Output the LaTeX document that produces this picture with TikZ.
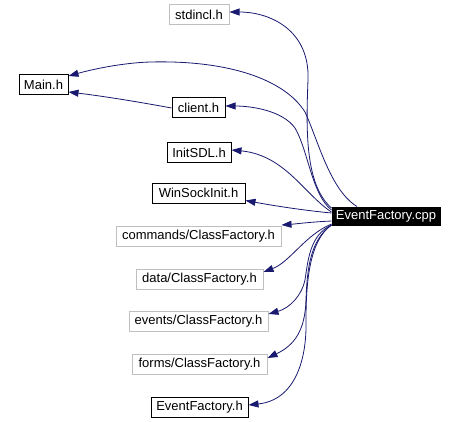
\documentclass[tikz,border=0pt]{standalone}
\usepackage{fontspec}
\setmainfont{Liberation Sans}
\usetikzlibrary{arrows.meta}
\definecolor{edgecol}{RGB}{25,25,112}
\definecolor{graybd}{RGB}{191,191,191}
\begin{document}
\begin{tikzpicture}[x=1pt,y=-1pt,
  box/.style={draw=black,line width=1pt,inner sep=0pt,minimum height=20pt,font=\fontsize{13}{15}\selectfont},
  gbox/.style={box,draw=graybd},
  cppbox/.style={box,fill=black,text=white,minimum height=18pt},
  arr/.style={draw=edgecol,line width=0.8pt,-{Triangle[length=10pt,width=7pt]}}]
\useasboundingbox (0,0) rectangle (457,422);
\fill[white] (0,0) rectangle (457,422);
\node[gbox,minimum width=60pt] (std) at (199,15) {stdincl.h};
\node[box,minimum width=49pt] (main) at (43.5,85) {Main.h};
\node[box,minimum width=53pt] (client) at (198.5,108) {client.h};
\node[box,minimum width=64pt] (initsdl) at (199,152.5) {InitSDL.h};
\node[box,minimum width=93pt] (winsock) at (198.5,193) {WinSockInit.h};
\node[cppbox,minimum width=108pt] (cpp) at (386,216) {EventFactory.cpp};
\node[gbox,minimum width=165pt] (commands) at (198.5,236) {commands/ClassFactory.h};
\node[gbox,minimum width=127pt] (data) at (199.5,279) {data/ClassFactory.h};
\node[gbox,minimum width=139pt] (events) at (198.5,321) {events/ClassFactory.h};
\node[gbox,minimum width=135pt] (forms) at (199.5,364) {forms/ClassFactory.h};
\node[box,minimum width=97pt] (efh) at (199.5,407) {EventFactory.h};

\draw[arr] ([yshift=8pt]cpp.west) .. controls (305,185) and (306,130) .. (308,80) .. controls (310,30) and (270,12) .. ([yshift=3pt]std.east);
\draw[arr] ([xshift=-29pt]cpp.north) .. controls (330,190) and (318,140) .. (305,112) .. controls (285,80) and (230,60) .. (150,62) .. controls (120,63) and (90,70) .. ([yshift=9pt]main.east);
\draw[arr] (client.west) .. controls (150,104) and (110,97) .. ([yshift=-7pt]main.east);
\draw[arr] ([yshift=6pt]cpp.west) .. controls (312,195) and (308,150) .. (295,128) .. controls (282,110) and (250,106) .. ([yshift=2pt]client.east);
\draw[arr] ([yshift=4pt]cpp.west) .. controls (305,195) and (285,155) .. ([yshift=2.5pt]initsdl.east);
\draw[arr] ([yshift=3pt]cpp.west) .. controls (300,210) and (270,205) .. ([yshift=-7.5pt]winsock.east);
\draw[arr] ([yshift=-5pt]cpp.west) .. controls (310,222) and (295,224) .. ([yshift=11pt]commands.east);
\draw[arr] ([yshift=-8pt]cpp.west) .. controls (305,235) and (290,262) .. ([yshift=7pt]data.east);
\draw[arr] ([yshift=-9pt]cpp.west) .. controls (310,235) and (308,260) .. (305,280) .. controls (302,295) and (290,308) .. ([yshift=7pt]events.east);
\draw[arr] ([yshift=-9pt]cpp.west) .. controls (310,240) and (307,270) .. (306,300) .. controls (305,330) and (295,345) .. ([yshift=6pt]forms.east);
\draw[arr] ([yshift=-9pt]cpp.west) .. controls (310,240) and (306,280) .. (306,320) .. controls (307,360) and (295,400) .. ([yshift=2pt]efh.east);
\end{tikzpicture}
\end{document}
